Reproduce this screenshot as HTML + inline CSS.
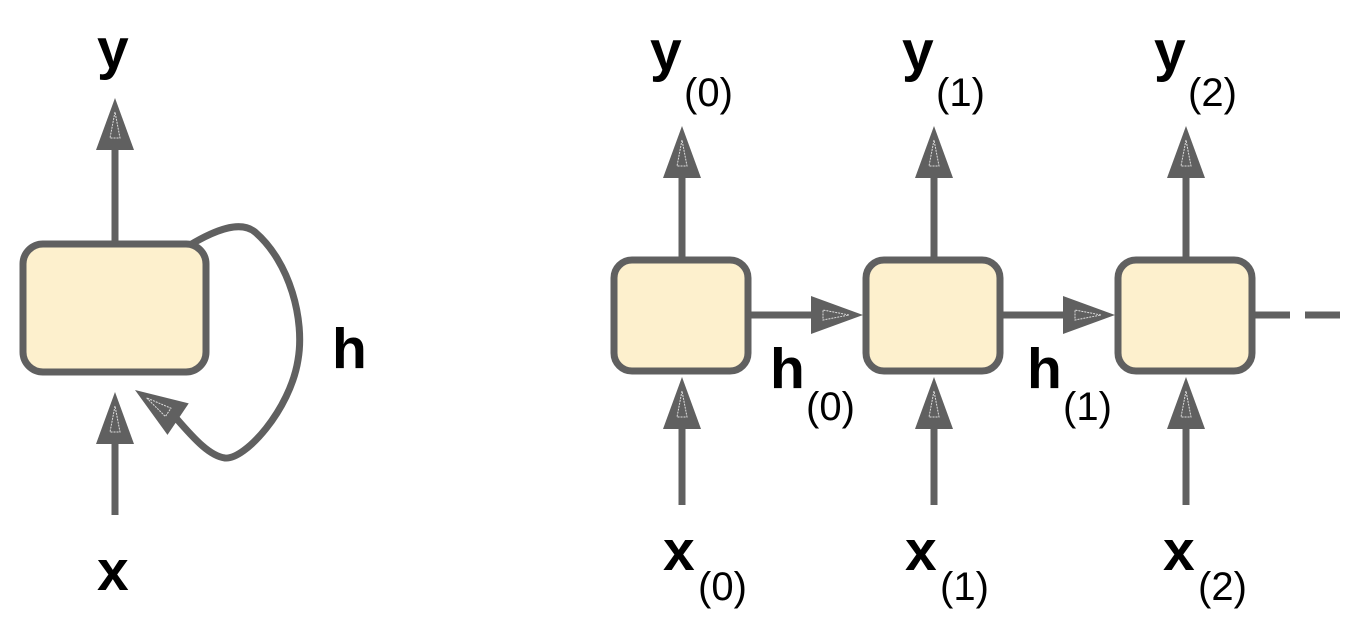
<!DOCTYPE html>
<html><head><meta charset="utf-8"><style>
html,body{margin:0;padding:0;background:#fff;width:1358px;height:620px;overflow:hidden}
svg{display:block}
.b{font-family:"Liberation Sans",sans-serif;font-weight:bold;font-size:57px;fill:#000}
.s{font-family:"Liberation Sans",sans-serif;font-size:40px;fill:#000}
</style></head><body>
<svg width="1358" height="620" viewBox="0 0 1358 620" xmlns="http://www.w3.org/2000/svg">
<defs>
<g id="au">
<polygon points="0,0 -19,52 19,52" fill="#606060"/>
<polygon points="0,14 -5,40 5,40" fill="none" stroke="#ddd" stroke-width="1" stroke-dasharray="2,1"/>
</g>
</defs>
<g stroke="#606060" stroke-width="7" fill="none">
<line x1="115" y1="150" x2="115" y2="243"/>
<line x1="115" y1="440" x2="115" y2="515"/>
<path d="M190,245 C215,230 240,220 255,232 C290,262 305,320 298,360 C290,410 245,460 225,458 C210,456 195,440 176,418"/>
<line x1="682" y1="175" x2="682" y2="260"/>
<line x1="934" y1="175" x2="934" y2="260"/>
<line x1="1186" y1="175" x2="1186" y2="260"/>
<line x1="682" y1="425" x2="682" y2="505"/>
<line x1="934" y1="425" x2="934" y2="505"/>
<line x1="1186" y1="425" x2="1186" y2="505"/>
<line x1="750" y1="315" x2="820" y2="315"/>
<line x1="1002" y1="315" x2="1072" y2="315"/>
<line x1="1255" y1="315" x2="1290" y2="315"/>
<line x1="1305" y1="315" x2="1340" y2="315"/>
</g>
<g fill="#fdf0cd" stroke="#606060" stroke-width="7">
<rect x="23" y="244" width="183" height="128" rx="20"/>
<rect x="614" y="260" width="134" height="111" rx="18"/>
<rect x="866" y="260" width="134" height="111" rx="18"/>
<rect x="1118" y="260" width="134" height="111" rx="18"/>
</g>
<use href="#au" transform="translate(115,98)"/>
<use href="#au" transform="translate(115,392)"/>
<use href="#au" transform="translate(135,390) rotate(-56)"/>
<use href="#au" transform="translate(682,126)"/>
<use href="#au" transform="translate(934,126)"/>
<use href="#au" transform="translate(1186,126)"/>
<use href="#au" transform="translate(682,377)"/>
<use href="#au" transform="translate(934,377)"/>
<use href="#au" transform="translate(1186,377)"/>
<use href="#au" transform="translate(863,315) rotate(90)"/>
<use href="#au" transform="translate(1115,315) rotate(90)"/>
<text class="b" x="97" y="68">y</text>
<text class="b" x="97" y="590">x</text>
<text class="b" x="332" y="368">h</text>
<text class="b" x="650" y="70">y</text><text class="s" x="684" y="106">(0)</text>
<text class="b" x="902" y="70">y</text><text class="s" x="936" y="106">(1)</text>
<text class="b" x="1154" y="70">y</text><text class="s" x="1188" y="106">(2)</text>
<text class="b" x="770" y="388">h</text><text class="s" x="806" y="420">(0)</text>
<text class="b" x="1027" y="388">h</text><text class="s" x="1063" y="420">(1)</text>
<text class="b" x="663" y="570">x</text><text class="s" x="698" y="600">(0)</text>
<text class="b" x="905" y="570">x</text><text class="s" x="940" y="600">(1)</text>
<text class="b" x="1163" y="570">x</text><text class="s" x="1198" y="600">(2)</text>
</svg>
</body></html>
